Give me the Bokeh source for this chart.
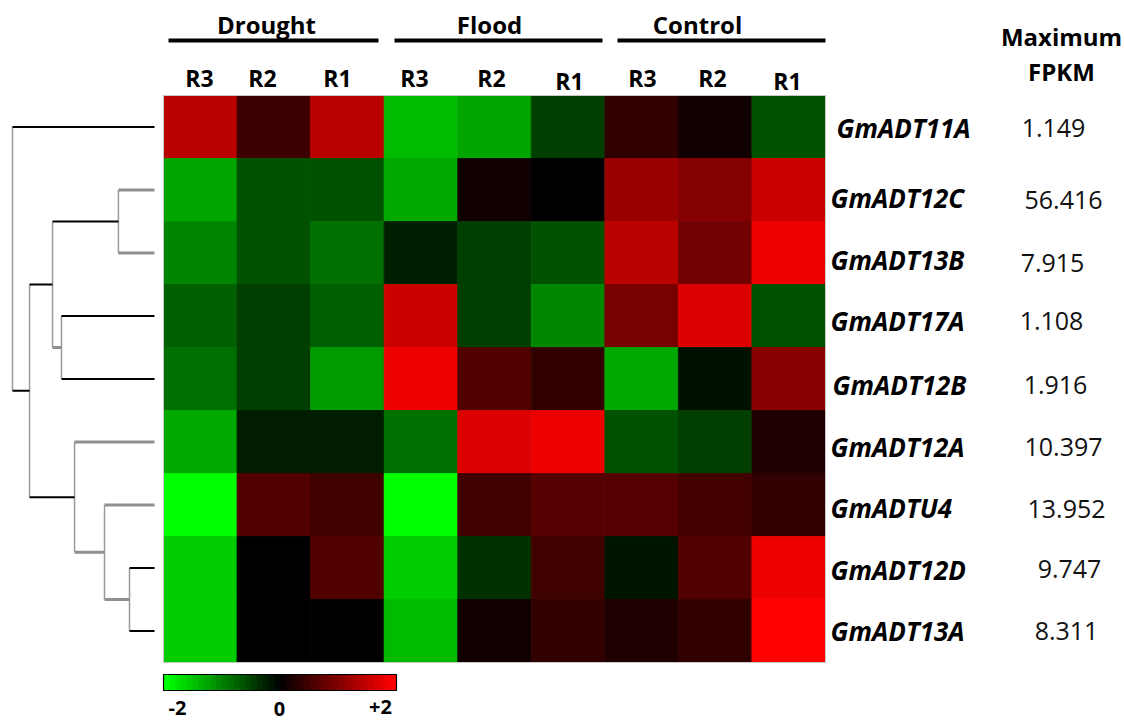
import numpy as np
from bokeh.plotting import figure
from bokeh.models import Range1d, LinearColorMapper
from bokeh.core.properties import value
from bokeh.embed import file_html
from bokeh.resources import INLINE

# ---------------- data ----------------
groups = ["Drought", "Flood", "Control"]
columns = ["R3", "R2", "R1", "R3", "R2", "R1", "R3", "R2", "R1"]
genes = ["GmADT11A", "GmADT12C", "GmADT13B", "GmADT17A", "GmADT12B",
         "GmADT12A", "GmADTU4", "GmADT12D", "GmADT13A"]
max_fpkm = ["1.149", "56.416", "7.915", "1.108", "1.916",
            "10.397", "13.952", "9.747", "8.311"]

# relative expression (log scale, -2 .. +2), one list per gene row
expr_11A = [1.47, 0.48, 1.47, -1.47, -1.29, -0.50, 0.38, 0.14, -0.64]
expr_12C = [-1.29, -0.63, -0.63, -1.32, 0.14, 0.00, 1.20, 1.04, 1.60]
expr_13B = [-1.04, -0.63, -0.89, -0.25, -0.50, -0.64, 1.47, 0.89, 1.87]
expr_17A = [-0.75, -0.50, -0.75, 1.60, -0.50, -1.07, 0.94, 1.73, -0.63]
expr_12B = [-0.88, -0.50, -1.22, 1.87, 0.63, 0.38, -1.32, -0.14, 1.07]
expr_12A = [-1.32, -0.22, -0.22, -0.88, 1.73, 1.87, -0.63, -0.50, 0.25]
expr_U4 = [-2.00, 0.63, 0.50, -2.00, 0.50, 0.67, 0.67, 0.53, 0.38]
expr_12D = [-1.60, 0.00, 0.63, -1.60, -0.38, 0.50, -0.16, 0.63, 1.87]
expr_13A = [-1.60, 0.00, 0.00, -1.47, 0.13, 0.38, 0.25, 0.38, 2.00]
expr_rows = [expr_11A, expr_12C, expr_13B, expr_17A, expr_12B,
             expr_12A, expr_U4, expr_12D, expr_13A]

# hierarchical clustering of rows: (child_a, child_b, distance); new nodes numbered 9..
merges = [(1, 2, 0.254), (3, 4, 0.655), (9, 10, 0.718), (7, 8, 0.176),
          (6, 12, 0.352), (5, 13, 0.563), (11, 14, 0.880), (0, 15, 1.000)]
# branch style of each child link: True = black, False = grey
branch_black = {0: True, 15: True, 11: True, 14: True, 9: True, 10: False,
                1: False, 2: False, 3: True, 4: True, 5: False, 13: False,
                6: False, 12: False, 7: True, 8: True}

scale_ticks = ["-2", "0", "+2"]
scale_vals = [-2, 0, 2]

# ---------------- layout helpers ----------------
W, H = 1124, 722
HX0, HX1, HY0, HY1 = 163, 825, 95, 662
CW = (HX1 - HX0) / len(columns)
RH = (HY1 - HY0) / len(genes)


def px(x):
    return (x - HX0) / CW


def py(y):
    return (y - HY0) / RH


palette = []
for k in range(256):
    t = -2 + 4 * k / 255
    if t < 0:
        palette.append("#%02x%02x%02x" % (0, int(round(-t / 2 * 255)), 0))
    else:
        palette.append("#%02x%02x%02x" % (int(round(t / 2 * 255)), 0, 0))
mapper = LinearColorMapper(palette=palette, low=-2, high=2)


def colour(v):
    return palette[int(round((v + 2) / 4 * 255))]


p = figure(width=W, height=H, output_backend="svg", toolbar_location=None,
           x_range=Range1d(px(0), px(W)), y_range=Range1d(py(H), py(0)),
           min_border=0, min_border_left=0, min_border_right=0,
           min_border_top=0, min_border_bottom=0)
p.axis.visible = False
p.grid.visible = False
p.outline_line_color = None
p.background_fill_color = "white"
p.border_fill_color = "white"

# ---------------- heatmap ----------------
xs, ys, cs = [], [], []
for r, row in enumerate(expr_rows):
    for c, v in enumerate(row):
        xs.append(c + 0.5)
        ys.append(r + 0.5)
        cs.append(colour(v))
p.rect(x=xs, y=ys, width=1, height=1, fill_color=cs, line_color=cs, line_width=0.8)
p.rect(x=[len(columns) / 2], y=[len(genes) / 2], width=len(columns), height=len(genes),
       fill_color=None, line_color="#c8c8c8", line_width=1)

FONT = value("Open Sans")

# group headers
grp_lab_x = [266, 489, 697]
grp_bar = [(168, 378), (394, 602), (617, 825)]
p.text(x=[px(v) for v in grp_lab_x], y=[py(24)] * 3, text=groups,
       text_font=FONT, text_font_style="bold", text_font_size="24px",
       text_align="center", text_baseline="middle", text_color="black")
p.segment(x0=[px(a) for a, b in grp_bar], x1=[px(b) for a, b in grp_bar],
          y0=[py(40)] * 3, y1=[py(40)] * 3, line_color="black", line_width=4)

# column labels
col_lab_x = [199, 262, 337, 414, 491, 569, 642, 712, 787]
col_lab_y = [77, 77, 77, 77, 77, 80, 77, 77, 80]
p.text(x=[px(v) for v in col_lab_x], y=[py(v) for v in col_lab_y], text=columns,
       text_font=FONT, text_font_style="bold", text_font_size="23px",
       text_align="center", text_baseline="middle", text_color="black")

# gene labels and values
gene_lab_x = [836, 830, 830, 830, 832, 830, 830, 830, 830]
gene_lab_y = [127, 197, 259, 320, 384, 446, 507, 569, 630]
p.text(x=[px(v) for v in gene_lab_x], y=[py(v) for v in gene_lab_y], text=genes,
       text_font=FONT, text_font_style="bold italic", text_font_size="26px",
       text_align="left", text_baseline="middle", text_color="black")
val_x = [1053, 1063, 1052, 1051, 1055, 1063, 1066, 1069, 1066]
val_y = [127, 199, 262, 320, 384, 446, 508, 568, 630]
p.text(x=[px(v) for v in val_x], y=[py(v) for v in val_y], text=max_fpkm,
       text_font=FONT, text_font_size="25px",
       text_align="center", text_baseline="middle", text_color="#111111")
p.text(x=[px(1061)] * 2, y=[py(36), py(71)], text=["Maximum", "FPKM"],
       text_font=FONT, text_font_style="bold", text_font_size="24px",
       text_align="center", text_baseline="middle", text_color="black")

# ---------------- dendrogram ----------------
LEAF_X, ROOT_X = 154, 12


def dx(d):
    return px(LEAF_X - d * (LEAF_X - ROOT_X))


node_y = {i: i + 0.5 for i in range(len(genes))}
node_d = {i: 0.0 for i in range(len(genes))}
hx0, hx1, hy, hcol, hw = [], [], [], [], []
vx, vy0, vy1 = [], [], []
for k, (a, b, d) in enumerate(merges):
    nid = len(genes) + k
    node_y[nid] = (node_y[a] + node_y[b]) / 2
    node_d[nid] = d
    for ch in (a, b):
        hx0.append(dx(d))
        hx1.append(dx(node_d[ch]))
        hy.append(node_y[ch])
        blk = branch_black[ch]
        hcol.append("black" if blk else "#8f8f8f")
        hw.append(2 if blk else 3)
    vx.append(dx(d))
    vy0.append(node_y[a])
    vy1.append(node_y[b])
p.segment(x0=vx, x1=vx, y0=vy0, y1=vy1, line_color="#9a9a9a", line_width=1.5)
p.segment(x0=hx0, x1=hx1, y0=hy, y1=hy, line_color=hcol, line_width=hw)

# ---------------- colour scale ----------------
CB_X0, CB_X1, CB_Y0, CB_Y1 = 163, 396, 674, 690
grad = np.linspace(scale_vals[0], scale_vals[-1], 40)[None, :]
p.image(image=[grad], x=px(CB_X0), y=py(CB_Y0), dw=px(CB_X1) - px(CB_X0),
        dh=py(CB_Y1) - py(CB_Y0), color_mapper=mapper)
p.rect(x=[(px(CB_X0) + px(CB_X1)) / 2], y=[(py(CB_Y0) + py(CB_Y1)) / 2],
       width=px(CB_X1) - px(CB_X0), height=py(CB_Y1) - py(CB_Y0),
       fill_color=None, line_color="black", line_width=1.2)
tick_x = [177, 279, 380]
tick_y = [707, 708, 706]
p.text(x=[px(v) for v in tick_x], y=[py(v) for v in tick_y], text=scale_ticks,
       text_font=FONT, text_font_style="bold", text_font_size="20px",
       text_align="center", text_baseline="middle", text_color="black")

open("out.html", "w").write(file_html(p, INLINE))
